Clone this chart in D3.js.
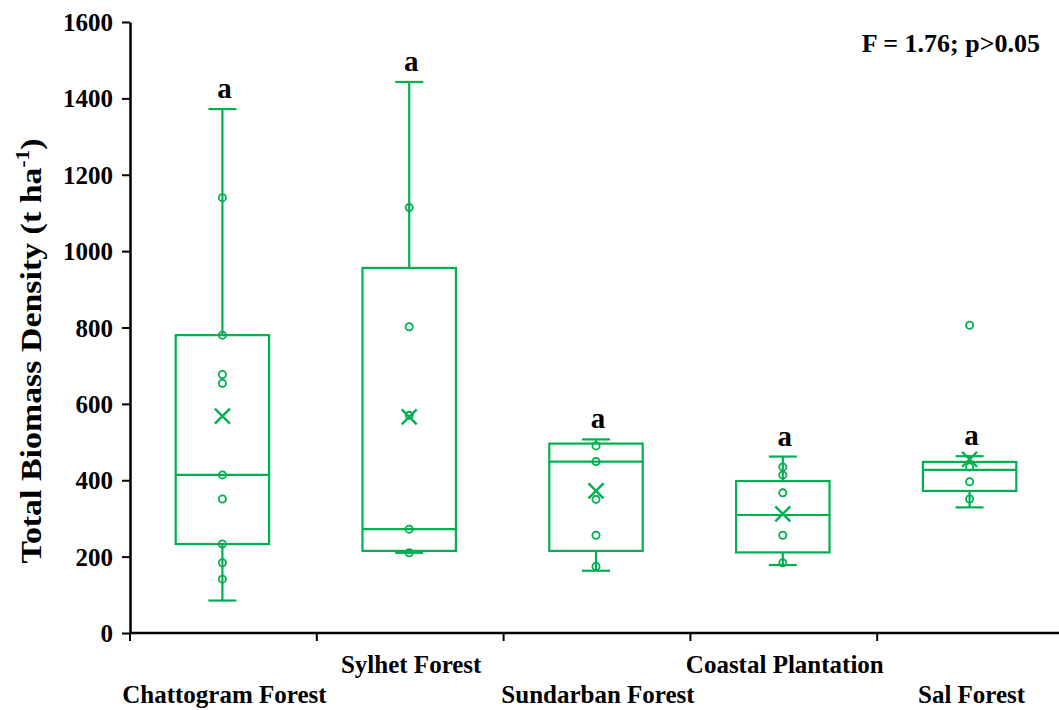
<!DOCTYPE html>
<html>
<head>
<meta charset="utf-8">
<script src="https://cdn.jsdelivr.net/npm/d3@7"></script>
<style>
    body { margin: 0; background: #ffffff; }
    text { font-family: "Liberation Serif", "Times New Roman", serif; font-weight: bold; }
</style>
</head>
<body>
<div id="chart"></div>
<script>
// forest types
var categories = ["Chattogram Forest", "Sylhet Forest", "Sundarban Forest", "Coastal Plantation", "Sal Forest"];

// box stats (t ha-1)
var whiskerLow = [85, 210, 163, 178, 329];
var q1 = [233, 215, 215, 211, 372];
var median = [414, 272, 449, 309, 427];
var q3 = [780, 956, 496, 398, 448];
var whiskerHigh = [1372, 1443, 507, 462, 463];
var means = [568, 566, 372, 312, 455];

// individual plots shown as circles
var points = [
    [1140, 780, 677, 654, 414, 351, 233, 184, 141],
    [1114, 802, 570, 272, 210],
    [490, 449, 350, 256, 174],
    [435, 414, 367, 256, 184],
    [806, 435, 396, 351]
];

var letters = ["a", "a", "a", "a", "a"];
var yTicks = [0, 200, 400, 600, 800, 1000, 1200, 1400, 1600];
var statText = "F = 1.76; p>0.05";

var width = 1059, height = 710;
var green = "#00b050";

var svg = d3.select("#chart").append("svg")
    .attr("width", width)
    .attr("height", height);

var xScale = d3.scaleBand().domain(categories).range([130, 1064]).paddingInner(0).paddingOuter(0);
var yScale = d3.scaleLinear().domain([0, 1600]).range([633, 22]);

var boxW = xScale.bandwidth() * 0.5;
var capW = 28;

// y axis
var yAxis = svg.append("g")
    .attr("transform", "translate(130,0)")
    .call(d3.axisLeft(yScale).tickValues(yTicks).tickSize(8).tickSizeOuter(0).tickFormat(d3.format("d")));
yAxis.select(".domain").attr("stroke", "#000").attr("stroke-width", 2.5);
yAxis.selectAll(".tick line").attr("stroke", "#000").attr("stroke-width", 2);
yAxis.selectAll(".tick text")
    .attr("x", -17)
    .attr("dy", "0.34em")
    .attr("font-size", 25)
    .attr("font-family", "Liberation Serif")
    .attr("font-weight", "bold")
    .attr("fill", "#000");

// x axis (ticks at band edges)
var xAxisG = svg.append("g");
xAxisG.append("line")
    .attr("x1", 130).attr("x2", 1064)
    .attr("y1", yScale(0)).attr("y2", yScale(0))
    .attr("stroke", "#000").attr("stroke-width", 2.5);
categories.forEach(function (c) {
    xAxisG.append("line")
        .attr("x1", xScale(c)).attr("x2", xScale(c))
        .attr("y1", yScale(0)).attr("y2", yScale(0) + 8)
        .attr("stroke", "#000").attr("stroke-width", 2);
});

// category labels, staggered in two rows
categories.forEach(function (c, i) {
    svg.append("text")
        .text(c)
        .attr("x", xScale(c) + xScale.bandwidth() / 2 + 1)
        .attr("y", i % 2 == 0 ? 703 : 673)
        .attr("text-anchor", "middle")
        .attr("font-size", 25)
        .attr("fill", "#000");
});

// y axis title (stretched along its length like the original)
svg.append("text")
    .attr("transform", "translate(41," + 351 + ") rotate(-90) scale(1.13,1)")
    .attr("text-anchor", "middle")
    .attr("font-size", 30)
    .attr("fill", "#000")
    .call(function (t) {
        t.append("tspan").text("Total Biomass Density (t ha");
        t.append("tspan").text("-1").attr("font-size", 19).attr("dy", -12);
        t.append("tspan").text(")").attr("dy", 12);
    });

// boxes
var g = svg.append("g")
    .attr("fill", "none")
    .attr("stroke", green)
    .attr("stroke-width", 2.2);

categories.forEach(function (c, i) {
    var cx = xScale(c) + xScale.bandwidth() / 2 - 1;

    // whiskers
    g.append("line")
        .attr("x1", cx).attr("x2", cx)
        .attr("y1", yScale(q3[i])).attr("y2", yScale(whiskerHigh[i]));
    g.append("line")
        .attr("x1", cx).attr("x2", cx)
        .attr("y1", yScale(q1[i])).attr("y2", yScale(whiskerLow[i]));
    g.append("line")
        .attr("x1", cx - capW / 2).attr("x2", cx + capW / 2)
        .attr("y1", yScale(whiskerHigh[i])).attr("y2", yScale(whiskerHigh[i]));
    g.append("line")
        .attr("x1", cx - capW / 2).attr("x2", cx + capW / 2)
        .attr("y1", yScale(whiskerLow[i])).attr("y2", yScale(whiskerLow[i]));

    // box + median
    g.append("rect")
        .attr("x", cx - boxW / 2)
        .attr("y", yScale(q3[i]))
        .attr("width", boxW)
        .attr("height", yScale(q1[i]) - yScale(q3[i]));
    g.append("line")
        .attr("x1", cx - boxW / 2).attr("x2", cx + boxW / 2)
        .attr("y1", yScale(median[i])).attr("y2", yScale(median[i]));

    // points
    points[i].forEach(function (v) {
        g.append("circle")
            .attr("cx", cx)
            .attr("cy", yScale(v))
            .attr("r", 3.6)
            .attr("stroke-width", 1.8);
    });

    // mean marker
    var m = yScale(means[i]), s = 7.5;
    g.append("path")
        .attr("d", "M" + (cx - s) + "," + (m - s) + "L" + (cx + s) + "," + (m + s) +
            "M" + (cx + s) + "," + (m - s) + "L" + (cx - s) + "," + (m + s))
        .attr("stroke-width", 2.4);

    // significance letter
    svg.append("text")
        .text(letters[i])
        .attr("x", cx + 2)
        .attr("y", yScale(whiskerHigh[i]) - 11)
        .attr("text-anchor", "middle")
        .attr("font-size", 29)
        .attr("fill", "#000");
});

// test statistic
svg.append("text")
    .text(statText)
    .attr("x", 1040)
    .attr("y", 52)
    .attr("text-anchor", "end")
    .attr("font-size", 26)
    .attr("fill", "#000");
</script>
</body>
</html>
